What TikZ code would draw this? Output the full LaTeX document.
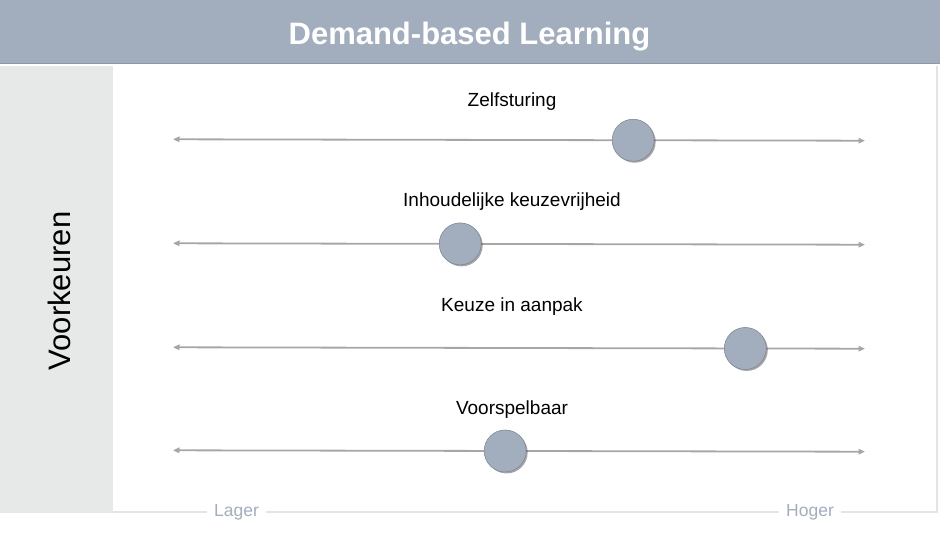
\documentclass[tikz,border=0pt]{standalone}
\usepackage{fontspec}
\setmainfont{Liberation Sans}
\usepackage{tikz}
\usetikzlibrary{arrows.meta, positioning, shadows}
\definecolor{slate}{RGB}{162,173,189}
\definecolor{panelgray}{RGB}{230,233,232}
\definecolor{railgray}{RGB}{166,166,166}
\definecolor{framegray}{RGB}{226,229,229}

\begin{document}
\begin{tikzpicture}[
    x=1pt, y=-1pt,
    >={Triangle[length=6.5pt, width=5.5pt]},
    question/.style={font=\fontsize{19}{22}\selectfont, anchor=base},
    knob/.style={circle, minimum size=42pt, inner sep=0pt, fill=slate, draw=slate!75!black, line width=0.5pt,
        drop shadow={shadow xshift=1.5pt, shadow yshift=-1.5pt, opacity=0.35, fill=black}},
    rail/.style={<->, draw=railgray, fill=railgray, line width=1.8pt},
    frame/.style={draw=framegray, line width=2pt},
    scaletext/.style={font=\fontsize{17.5}{20}\selectfont, text=slate, inner xsep=7pt, inner ysep=0pt}
]
\useasboundingbox (0,0) rectangle (940,540);

% Header band
\fill[slate] (0,0) rectangle (940,64);
\draw[slate!88!black, line width=1pt] (0,64) -- (940,64);
\node[font=\bfseries\fontsize{31}{36}\selectfont, text=white, anchor=base] (title) at (469.5,45) {Demand-based Learning};

% Side panel
\fill[panelgray] (0,66) rectangle (113,513);
\node[font=\fontsize{31}{36}\selectfont, rotate=90, anchor=base] (side) at (70,291) {Voorkeuren};

% Scale frame
\coordinate (frame-bl) at (113,512);
\coordinate (frame-br) at (937,512);
\coordinate (frame-tr) at (937,66);
\node[scaletext] (lager) at (236.5,512) {Lager};
\node[scaletext] (hoger) at (810,512) {Hoger};
\draw[frame] (frame-bl) -- (lager);
\draw[frame] (lager) -- (hoger);
\draw[frame] (hoger) -- (frame-br) -- (frame-tr);

% Row 1
\node[question] (q1) at (512,107) {Zelfsturing};
\coordinate (r1-l) at (173,139.3);
\coordinate (r1-r) at (865,140.7);
\draw[rail] (r1-l) -- (r1-r) node[knob, pos=0.665] (k1) {};

% Row 2
\node[question] (q2) at (512,207) {Inhoudelijke keuzevrijheid};
\coordinate (r2-l) at (173,243.3);
\coordinate (r2-r) at (865,244.7);
\draw[rail] (r2-l) -- (r2-r) node[knob, pos=0.415] (k2) {};

% Row 3
\node[question] (q3) at (512,311) {Keuze in aanpak};
\coordinate (r3-l) at (173,347.3);
\coordinate (r3-r) at (865,348.7);
\draw[rail] (r3-l) -- (r3-r) node[knob, pos=0.827] (k3) {};

% Row 4
\node[question] (q4) at (512,414) {Voorspelbaar};
\coordinate (r4-l) at (173,450.3);
\coordinate (r4-r) at (865,451.7);
\draw[rail] (r4-l) -- (r4-r) node[knob, pos=0.48] (k4) {};

\end{tikzpicture}
\end{document}
